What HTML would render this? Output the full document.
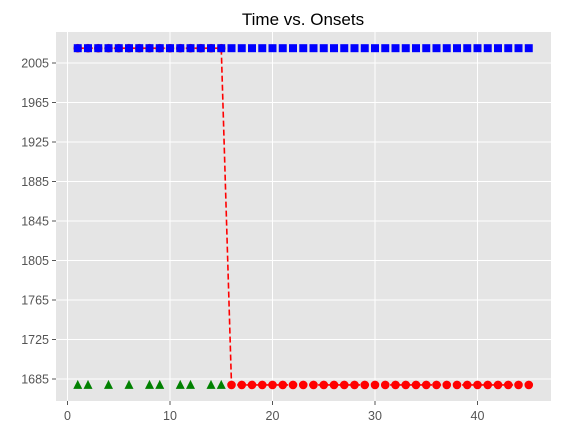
<!DOCTYPE html>
<html><head><meta charset="utf-8"><style>
body{margin:0;background:#fff;font-family:"Liberation Sans","DejaVu Sans",sans-serif}
svg text{fill:#555;font-size:12.5px}
</style></head><body>
<svg width="564" height="436" xmlns="http://www.w3.org/2000/svg">
<text x="303" y="25" text-anchor="middle" style="fill:#000;font-size:17px">Time vs. Onsets</text>
<rect x="56" y="32" width="495" height="369" fill="#e5e5e5"/>
<g id="grid"></g><g id="ticks"></g><g id="series"></g>
</svg>
<script>
const xTicks=[0,10,20,30,40];
const yTicks=[1685,1725,1765,1805,1845,1885,1925,1965,2005];
const blueX=[];for(let i=1;i<=45;i++)blueX.push(i);
const blueY=blueX.map(()=>2020);
const redX=blueX.slice();
const redY=[2020,2020,2020,2020,2020,2020,2020,2020,2020,2020,2020,2020,2020,2020,2020,1679,1679,1679,1679,1679,1679,1679,1679,1679,1679,1679,1679,1679,1679,1679,1679,1679,1679,1679,1679,1679,1679,1679,1679,1679,1679,1679,1679,1679,1679];
const greenX=[1,2,4,6,8,9,11,12,14,15];
const greenY=[1679,1679,1679,1679,1679,1679,1679,1679,1679,1679];
const xs=v=>67.5+v*10.25, ys=v=>63-(v-2005)*0.9875;
const NS='http://www.w3.org/2000/svg';
function mk(t,a,p){const e=document.createElementNS(NS,t);for(const k in a)e.setAttribute(k,a[k]);p.appendChild(e);return e;}
const g=document.getElementById('grid'),tk=document.getElementById('ticks'),s=document.getElementById('series');
xTicks.forEach(v=>{const l=mk('line',{x1:xs(v),x2:xs(v),y1:32,y2:401,stroke:'#fff','stroke-width':1},g);

mk('line',{x1:xs(v),x2:xs(v),y1:401,y2:405,stroke:'#555'},tk);
const t=mk('text',{x:xs(v),y:420,'text-anchor':'middle'},tk);t.textContent=v;
});
yTicks.forEach(v=>{const l=mk('line',{x1:56,x2:551,y1:ys(v),y2:ys(v),stroke:'#fff','stroke-width':1},g);

mk('line',{x1:52,x2:56,y1:ys(v),y2:ys(v),stroke:'#555'},tk);
const t=mk('text',{x:49,y:ys(v)+4.5,'text-anchor':'end'},tk);t.textContent=v;
});
// green
greenX.forEach((x,i)=>{const cx=xs(x),cy=ys(greenY[i]);
const p=mk('polygon',{points:`${cx},${cy-5} ${cx-4.5},${cy+4} ${cx+4.5},${cy+4}`,fill:'green'},s);
});
// red
const rl=mk('polyline',{points:redX.map((x,i)=>xs(x)+','+ys(redY[i])).join(' '),fill:'none',stroke:'red','stroke-width':1.6,'stroke-dasharray':'6,3'},s);

redX.forEach((x,i)=>{const c=mk('circle',{cx:xs(x),cy:ys(redY[i]),r:4.3,fill:'red'},s);
});
// blue
blueX.forEach((x,i)=>{const r=mk('rect',{x:xs(x)-4,y:ys(blueY[i])-4,width:8,height:8,fill:'blue'},s);
});
</script>
</body></html>
